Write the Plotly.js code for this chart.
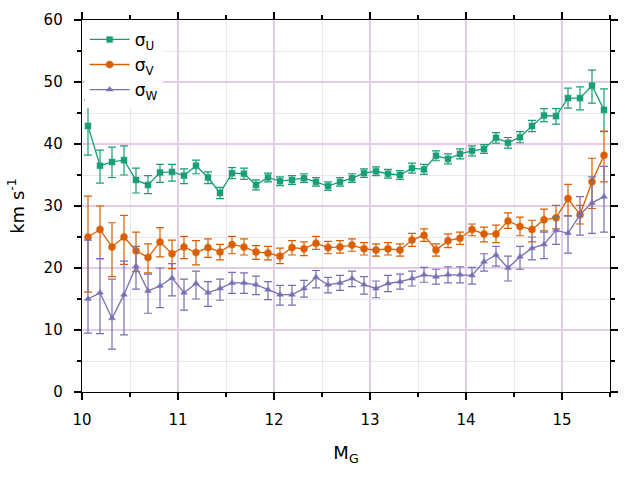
<!DOCTYPE html>
<html>
<head>
<meta charset="utf-8">
<script src="https://cdn.plot.ly/plotly-3.0.1.min.js"></script>
<style>
  body { margin: 0; background: #fff; }
  #plot { width: 640px; height: 480px; }
</style>
</head>
<body>
<div id="plot"></div>
<script>
// bin centres in M_G
var mg = [10.0625, 10.1875, 10.3125, 10.4375, 10.5625, 10.6875, 10.8125, 10.9375,
          11.0625, 11.1875, 11.3125, 11.4375, 11.5625, 11.6875, 11.8125, 11.9375,
          12.0625, 12.1875, 12.3125, 12.4375, 12.5625, 12.6875, 12.8125, 12.9375,
          13.0625, 13.1875, 13.3125, 13.4375, 13.5625, 13.6875, 13.8125, 13.9375,
          14.0625, 14.1875, 14.3125, 14.4375, 14.5625, 14.6875, 14.8125, 14.9375,
          15.0625, 15.1875, 15.3125, 15.4375];

// sigma_U
var sigU = [42.9, 36.5, 37.1, 37.4, 34.2, 33.4, 35.4, 35.5, 34.9, 36.5, 34.6,
            32.1, 35.3, 35.2, 33.4, 34.6, 34.0, 34.2, 34.5, 33.9, 33.2, 33.9,
            34.5, 35.3, 35.6, 35.2, 35.0, 36.1, 35.9, 38.1, 37.6, 38.4, 38.9,
            39.2, 41.0, 40.2, 41.1, 42.9, 44.6, 44.5, 47.4, 47.4, 49.4, 45.5];
var errUp = [4.2, 2.5, 2.4, 2.3, 1.9, 1.5, 1.3, 1.2, 1.1, 0.9, 0.9,
             0.9, 0.9, 0.9, 0.8, 0.7, 0.7, 0.7, 0.7, 0.7, 0.7, 0.7,
             0.7, 0.7, 0.7, 0.7, 0.7, 0.8, 0.8, 0.8, 0.8, 0.8, 0.8,
             0.7, 0.85, 0.85, 0.9, 0.9, 1.1, 1.2, 1.6, 1.8, 2.5, 3.4];
var errUdn = [4.7, 2.8, 2.5, 2.4, 2.1, 1.4, 1.6, 1.5, 1.3, 1.3, 1.0,
              0.9, 0.9, 0.9, 0.8, 0.7, 0.7, 0.7, 0.7, 0.7, 0.7, 0.7,
              0.7, 0.7, 0.7, 0.7, 0.7, 0.8, 0.8, 0.8, 0.8, 0.8, 0.8,
              0.7, 0.85, 0.85, 0.9, 0.9, 1.0, 1.3, 1.6, 1.9, 2.8, 3.5];

// sigma_V
var sigV = [25.0, 26.2, 23.4, 25.0, 22.8, 21.7, 24.2, 22.3, 23.4, 22.5, 23.3,
            22.6, 23.8, 23.4, 22.6, 22.4, 21.9, 23.3, 23.1, 24.0, 23.3, 23.4,
            23.7, 23.1, 22.9, 23.1, 22.9, 24.5, 25.3, 22.9, 24.4, 24.8, 26.2,
            25.5, 25.5, 27.6, 26.7, 26.2, 27.8, 28.1, 31.2, 28.6, 33.9, 38.2];
var errVup = [6.6, 3.8, 3.9, 3.5, 3.0, 2.2, 2.3, 2.2, 1.7, 1.9, 1.4,
              1.2, 1.3, 1.3, 1.0, 1.1, 1.3, 1.1, 1.1, 1.1, 1.0, 1.0,
              1.0, 1.0, 1.0, 1.0, 1.0, 1.1, 1.0, 1.0, 1.1, 1.0, 0.9,
              1.1, 1.4, 1.3, 1.5, 1.5, 1.7, 2.0, 2.3, 1.5, 3.8, 3.9];
var errVdn = [8.9, 4.7, 4.8, 4.4, 3.4, 2.5, 2.4, 2.4, 1.9, 2.0, 1.6,
              1.3, 1.5, 1.3, 1.2, 1.1, 1.2, 1.2, 1.1, 1.0, 1.0, 1.0,
              1.0, 1.0, 1.0, 1.0, 1.0, 1.0, 1.0, 1.0, 1.1, 1.0, 1.0,
              1.3, 1.4, 1.2, 1.5, 2.0, 1.8, 1.8, 2.8, 1.5, 4.3, 4.3];

// sigma_W
var sigW = [15.0, 16.0, 11.9, 15.7, 20.3, 16.3, 17.1, 18.4, 16.0, 17.5, 16.0,
            16.7, 17.6, 17.6, 17.3, 16.5, 15.7, 15.7, 16.7, 18.5, 17.3, 17.6,
            18.3, 17.3, 16.7, 17.5, 17.8, 18.3, 18.9, 18.6, 18.9, 18.9, 18.8,
            21.0, 22.1, 20.0, 21.8, 23.2, 23.8, 26.1, 25.6, 28.6, 30.5, 31.5];
var errWup = [9.5, 5.5, 6.3, 5.4, 3.2, 2.7, 2.9, 2.3, 2.2, 2.0, 1.8,
              1.5, 1.7, 1.6, 1.4, 1.3, 1.5, 1.5, 1.3, 1.1, 1.2, 1.2,
              1.2, 1.3, 1.2, 1.3, 1.2, 1.2, 1.2, 1.2, 1.3, 1.3, 1.3,
              1.3, 1.4, 1.9, 1.7, 1.8, 2.0, 2.1, 2.8, 2.9, 4.2, 4.9];
var errWdn = [5.5, 6.6, 5.0, 6.5, 3.7, 3.6, 3.5, 2.9, 2.8, 2.5, 2.2,
              1.9, 1.7, 1.7, 1.6, 1.6, 1.7, 1.7, 1.4, 1.7, 1.3, 1.2,
              1.3, 1.5, 1.5, 1.3, 1.2, 1.2, 1.2, 1.2, 1.3, 1.3, 1.4,
              1.5, 1.8, 2.1, 2.0, 1.9, 2.3, 2.3, 3.2, 3.3, 4.9, 5.7];

var names = ['σ<sub>U</sub>', 'σ<sub>V</sub>', 'σ<sub>W</sub>'];
var colors = ['#1b9e77', '#d95f02', '#7570b3'];
var halos = ['rgba(27,158,119,0.3)', 'rgba(217,95,2,0.3)', 'rgba(117,112,179,0.3)'];
var symbols = ['square', 'circle', 'triangle-up'];

function series(i, y, up, dn, size) {
  return {
    x: mg,
    y: y,
    name: names[i],
    type: 'scatter',
    mode: 'lines+markers',
    line: { color: colors[i], width: 1.3 },
    marker: { color: colors[i], symbol: symbols[i], size: size,
              line: { color: halos[i], width: 1.5 } },
    error_y: { type: 'data', symmetric: false, array: up, arrayminus: dn,
               color: colors[i], thickness: 1.2, width: 4 }
  };
}

var traces = [
  series(0, sigU, errUp, errUdn, 6),
  series(1, sigV, errVup, errVdn, 7),
  series(2, sigW, errWup, errWdn, 6)
];

var axisStyle = {
  showline: true, linecolor: '#000', linewidth: 1.3, mirror: 'ticks',
  ticks: 'outside', ticklen: 7, tickwidth: 1.3, tickcolor: '#000',
  showgrid: true, gridcolor: '#e2cde6', gridwidth: 1.6,
  zeroline: false, fixedrange: true
};

var layout = {
  width: 640, height: 480,
  margin: { l: 82, r: 30, t: 20, b: 88 },
  paper_bgcolor: '#fff', plot_bgcolor: '#fff',
  font: { family: 'DejaVu Sans, sans-serif', size: 15, color: '#000' },
  showlegend: true,
  legend: { x: 0.005, y: 0.995, xanchor: 'left', yanchor: 'top',
            bgcolor: '#fff', borderwidth: 0, font: { size: 17 },
            tracegroupgap: 0, itemwidth: 40 },
  xaxis: Object.assign({}, axisStyle, {
    range: [10, 15.5], dtick: 1, tick0: 10,
    minor: { dtick: 0.5, ticks: 'outside', ticklen: 4, tickcolor: '#000',
             showgrid: true, gridcolor: '#efe5f0', gridwidth: 1 },
    ticklabelstandoff: 7,
    title: { text: 'M<sub>G</sub>', standoff: 18 }
  }),
  yaxis: Object.assign({}, axisStyle, {
    range: [0, 60], dtick: 10, tick0: 0,
    minor: { dtick: 5, ticks: 'outside', ticklen: 4, tickcolor: '#000',
             showgrid: true, gridcolor: '#efe5f0', gridwidth: 1 },
    ticklabelstandoff: 8,
    title: { text: 'km s<sup>-1</sup>', standoff: 14 }
  })
};

Plotly.newPlot('plot', traces, layout, { displayModeBar: false, staticPlot: true });
</script>
</body>
</html>
